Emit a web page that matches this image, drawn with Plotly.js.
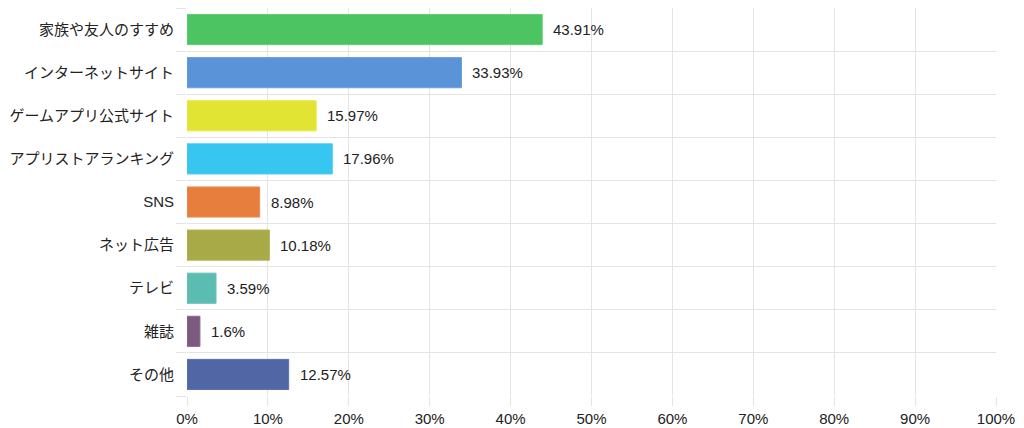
<!DOCTYPE html>
<html>
<head>
<meta charset="utf-8">
<script src="https://cdn.plot.ly/plotly-3.0.1.min.js"></script>
<style>html,body{margin:0;padding:0;background:#fff;}#chart{width:1024px;height:428px;}</style>
</head>
<body>
<div id="chart"></div>
<script>
const categories = ["家族や友人のすすめ","インターネットサイト","ゲームアプリ公式サイト","アプリストアランキング","SNS","ネット広告","テレビ","雑誌","その他"];
const values = [43.91, 33.93, 15.97, 17.96, 8.98, 10.18, 3.59, 1.6, 12.57];
const labels = ["43.91%","33.93%","15.97%","17.96%","8.98%","10.18%","3.59%","1.6%","12.57%"];
const colors = ["#4cc462","#5b93d8","#e2e434","#36c6f0","#e87e3e","#a8aa47","#5bbcb1","#7c5a80","#5166a5"];
const borders = ["#5fd070","#6a9fe0","#e6e84a","#4ccdf2","#ec8c50","#b2b455","#6cc4ba","#8a6a8e","#6073ad"];
const xTicks = [0,10,20,30,40,50,60,70,80,90,100];

const FONT = "Liberation Sans, Arial, 'Noto Sans CJK JP', sans-serif";
const GRID = "#e4e4e4";
const TEXT = "#222222";

const boundaries = [];
for (let i = 0; i <= categories.length; i++) boundaries.push(i - 0.5);

const traces = [
  {
    type: "bar",
    orientation: "h",
    x: values,
    y: categories,
    width: 0.7,
    marker: {color: colors, line: {color: borders, width: 1}},
    hoverinfo: "none",
    yaxis: "y"
  },
  {
    type: "scatter",
    mode: "markers",
    x: [0],
    y: [0],
    marker: {opacity: 0},
    hoverinfo: "none",
    showlegend: false,
    xaxis: "x",
    yaxis: "y2"
  }
];

const annotations = values.map((v, i) => ({
  x: v,
  y: categories[i],
  xref: "x",
  yref: "y",
  text: labels[i],
  showarrow: false,
  xanchor: "left",
  xshift: 9,
  font: {family: FONT, size: 15, color: TEXT}
}));

const layout = {
  width: 1024,
  height: 428,
  margin: {l: 187, r: 28, t: 8, b: 32},
  paper_bgcolor: "#ffffff",
  plot_bgcolor: "#ffffff",
  showlegend: false,
  font: {family: FONT, size: 15, color: TEXT},
  xaxis: {
    range: [0, 100],
    tickvals: xTicks,
    ticktext: xTicks.map(t => t + "%"),
    showgrid: true,
    gridcolor: GRID,
    gridwidth: 1,
    zeroline: false,
    showline: false,
    ticks: "outside",
    ticklen: 9,
    tickcolor: GRID,
    tickfont: {family: FONT, size: 15, color: TEXT},
    fixedrange: true
  },
  yaxis: {
    type: "category",
    autorange: "reversed",
    showgrid: false,
    zeroline: false,
    showline: false,
    ticks: "outside",
    ticklen: 9,
    tickcolor: "rgba(0,0,0,0)",
    tickfont: {family: FONT, size: 15, color: TEXT},
    fixedrange: true
  },
  yaxis2: {
    overlaying: "y",
    range: [categories.length - 0.5, -0.5],
    tickvals: boundaries,
    ticktext: boundaries.map(() => ""),
    showticklabels: false,
    showgrid: true,
    gridcolor: GRID,
    gridwidth: 1,
    zeroline: false,
    showline: false,
    ticks: "outside",
    ticklen: 10,
    tickcolor: GRID,
    side: "left",
    fixedrange: true
  },
  annotations: annotations,
  bargap: 0.3
};

Plotly.newPlot("chart", traces, layout, {displayModeBar: false, staticPlot: true});
</script>
</body>
</html>
